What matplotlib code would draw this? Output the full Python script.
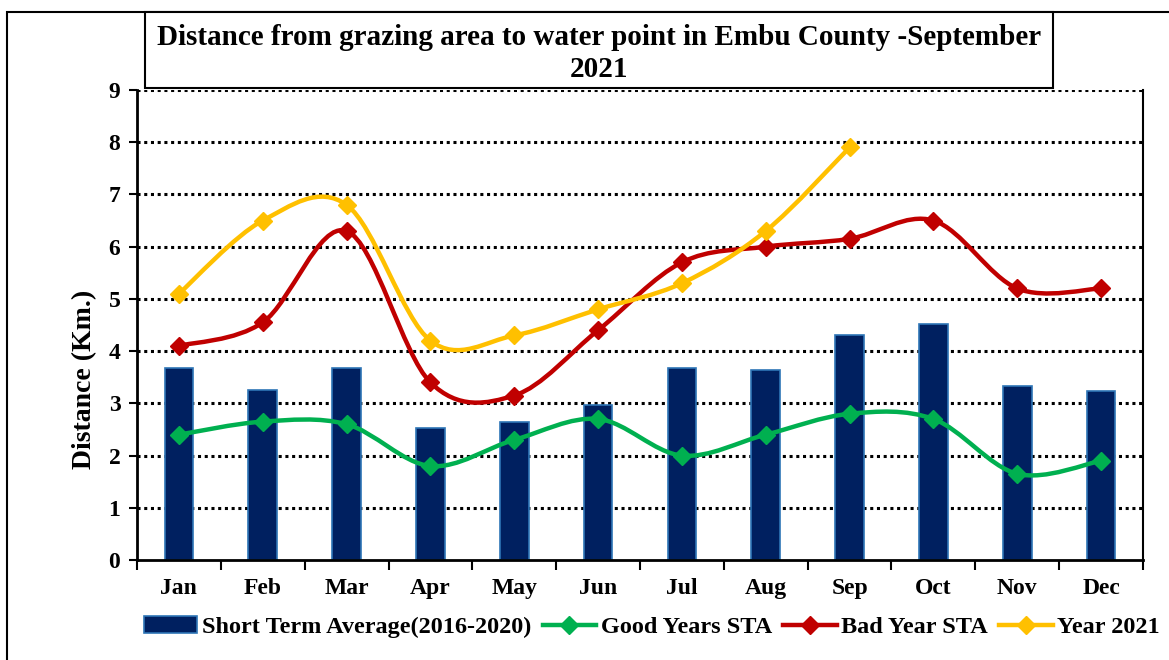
import numpy as np
import matplotlib
matplotlib.use("Agg")
import matplotlib.pyplot as plt
from matplotlib.path import Path
from matplotlib.patches import PathPatch, Rectangle
from matplotlib.lines import Line2D

plt.rcParams['font.family'] = ['Liberation Serif', 'DejaVu Serif']
plt.rcParams['font.weight'] = 'bold'

# === 資料 ===
months = ["Jan", "Feb", "Mar", "Apr", "May", "Jun", "Jul", "Aug", "Sep", "Oct", "Nov", "Dec"]
sta = [3.68, 3.25, 3.67, 2.53, 2.65, 2.97, 3.67, 3.63, 4.30, 4.52, 3.33, 3.23]
good_years = [2.4, 2.65, 2.6, 1.8, 2.3, 2.7, 2.0, 2.4, 2.8, 2.7, 1.65, 1.9]
bad_year = [4.1, 4.55, 6.3, 3.4, 3.15, 4.4, 5.7, 6.0, 6.15, 6.5, 5.2, 5.2]
year_2021 = [5.1, 6.5, 6.8, 4.2, 4.3, 4.8, 5.3, 6.3, 7.9]

title = "Distance from grazing area to water point in Embu County -September\n2021"


# === Excel 風格平滑曲線 (Bezier) ===
def smooth_path(xs, ys):
    pts = np.column_stack([xs, ys]).astype(float)
    n = len(pts)
    verts = [pts[0]]
    codes = [Path.MOVETO]
    for i in range(n - 1):
        p0 = pts[max(i - 1, 0)]
        p1 = pts[i]
        p2 = pts[i + 1]
        p3 = pts[min(i + 2, n - 1)]
        c1 = p1 + (p2 - p0) / 6.0
        c2 = p2 - (p3 - p1) / 6.0
        verts += [c1, c2, p2]
        codes += [Path.CURVE4] * 3
    return Path(verts, codes)


fig = plt.figure(figsize=(11.69, 6.6), dpi=100)
ax = fig.add_axes([137 / 1169, 1 - 560 / 660, (1143 - 137) / 1169, (560 - 90) / 660])

x = np.arange(len(months))
ax.bar(x, sta, width=0.34, color="#002060", edgecolor="#2E75B6", linewidth=1.2, zorder=2)

series = [
    (good_years, "#00B050"),
    (bad_year, "#C00000"),
    (year_2021, "#FFC000"),
]
for vals, color in series:
    xs = np.arange(len(vals))
    ax.add_patch(PathPatch(smooth_path(xs, vals), facecolor="none", edgecolor=color,
                           linewidth=3.2, capstyle="round", zorder=3))
    ax.plot(xs, vals, linestyle="none", marker="D", markersize=9, color=color, zorder=4)

ax.set_xlim(-0.5, 11.5)
ax.set_ylim(0, 9)
ax.set_yticks(range(10))
ax.set_yticklabels([str(i) for i in range(10)], fontsize=17, fontweight="bold")
ax.set_xticks(x)
ax.set_xticklabels(months, fontsize=17, fontweight="bold")
ax.tick_params(axis="x", which="major", length=0, pad=13)
ax.set_xticks(np.arange(-0.5, 12, 1), minor=True)
ax.tick_params(axis="x", which="minor", length=7, width=1.5, direction="out")
ax.tick_params(axis="y", length=6, width=1.5, direction="out", pad=6)

for yv in range(1, 10):
    ax.axhline(yv, color="black", linestyle=(0, (1, 1.2)), linewidth=2.2, zorder=1)

ax.spines["top"].set_visible(False)
ax.spines["left"].set_linewidth(2)
ax.spines["bottom"].set_linewidth(2)
ax.spines["right"].set_linewidth(1.5)

fig.text(85 / 1169, 1 - 379 / 660, "Distance (Km.)", rotation=90, fontsize=20,
         fontweight="bold", ha="center", va="center")

# 外框與標題框
fig.patches.append(Rectangle((7 / 1169, -0.1), 1.2, 1 - 12 / 660 + 0.1, transform=fig.transFigure,
                             fill=False, edgecolor="black", linewidth=1.5))
fig.patches.append(Rectangle((145 / 1169, 1 - 88 / 660), (1053 - 145) / 1169, (88 - 12) / 660,
                             transform=fig.transFigure, facecolor="white", edgecolor="black",
                             linewidth=1.5, zorder=5))
fig.text(599 / 1169, 1 - 53.5 / 660, title, fontsize=21, fontweight="bold",
         ha="center", va="center", linespacing=1.22, zorder=6)

# 圖例
handles = [
    Rectangle((0, 0), 1, 1, facecolor="#002060", edgecolor="#2E75B6", linewidth=1.2),
    Line2D([], [], color="#00B050", linewidth=3.2, marker="D", markersize=9),
    Line2D([], [], color="#C00000", linewidth=3.2, marker="D", markersize=9),
    Line2D([], [], color="#FFC000", linewidth=3.2, marker="D", markersize=9),
]
labels = ["Short Term Average(2016-2020)", "Good Years STA", "Bad Year STA", "Year 2021"]
fig.legend(handles, labels, loc="center", bbox_to_anchor=(652 / 1169, 1 - 627 / 660), ncol=4,
           frameon=False, fontsize=17.5, handlelength=2.2, handleheight=0.7,
           columnspacing=0.45, handletextpad=0.2, borderaxespad=0)

fig.savefig("out.png", dpi=100)
